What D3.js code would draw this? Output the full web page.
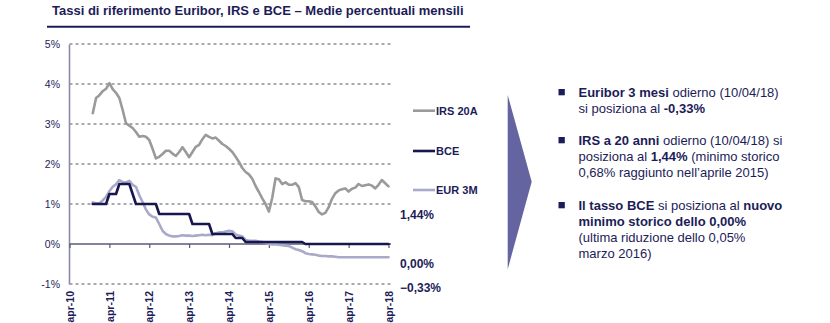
<!DOCTYPE html>
<html><head><meta charset="utf-8">
<script src="https://cdn.jsdelivr.net/npm/d3@7"></script>
<style>
html,body{margin:0;padding:0;background:#fff;}
svg{display:block;font-family:"Liberation Sans",Arial,sans-serif;}
</style></head><body>
<svg id="chart" width="830" height="323"></svg>
<script>
// Monthly averages (%), first value = November 2010, last = April 2018
const startMonth = "2010-11";
const irs20a = [3.27,3.65,3.72,3.82,3.88,4.02,3.87,3.78,3.65,3.35,
  3.02,2.96,2.90,2.80,2.68,2.70,2.68,2.60,2.38,2.14,
  2.18,2.25,2.33,2.33,2.26,2.20,2.30,2.42,2.30,2.17,
  2.30,2.43,2.48,2.62,2.73,2.68,2.64,2.66,2.58,2.50,
  2.45,2.38,2.30,2.18,2.05,1.90,1.80,1.74,1.63,1.45,
  1.30,1.14,1.00,0.81,1.15,1.64,1.62,1.50,1.54,1.48,
  1.48,1.52,1.42,1.10,1.07,1.07,1.05,0.94,0.80,0.74,
  0.78,0.92,1.13,1.27,1.34,1.37,1.39,1.31,1.38,1.41,
  1.50,1.45,1.47,1.49,1.46,1.39,1.48,1.60,1.52,1.44];
const bce = [1.00,1.00,1.00,1.00,1.00,1.25,1.25,1.25,1.50,1.50,
  1.50,1.50,1.25,1.00,1.00,1.00,1.00,1.00,1.00,1.00,
  0.75,0.75,0.75,0.75,0.75,0.75,0.75,0.75,0.75,0.75,
  0.50,0.50,0.50,0.50,0.50,0.50,0.25,0.25,0.25,0.25,
  0.25,0.25,0.25,0.15,0.15,0.15,0.05,0.05,0.05,0.05,
  0.05,0.05,0.05,0.05,0.05,0.05,0.05,0.05,0.05,0.05,
  0.05,0.05,0.05,0.05,0.00,0.00,0.00,0.00,0.00,0.00,
  0.00,0.00,0.00,0.00,0.00,0.00,0.00,0.00,0.00,0.00,
  0.00,0.00,0.00,0.00,0.00,0.00,0.00,0.00,0.00,0.00];
const eur3m = [1.04,1.02,1.02,1.09,1.18,1.32,1.43,1.49,1.60,1.55,
  1.54,1.58,1.48,1.43,1.22,1.05,0.86,0.74,0.68,0.66,
  0.50,0.33,0.25,0.21,0.19,0.19,0.20,0.22,0.21,0.21,
  0.20,0.21,0.22,0.23,0.22,0.23,0.22,0.27,0.29,0.29,
  0.31,0.33,0.32,0.24,0.21,0.19,0.10,0.08,0.08,0.08,
  0.06,0.05,0.03,0.00,-0.01,-0.01,-0.02,-0.03,-0.04,-0.05,
  -0.09,-0.13,-0.15,-0.18,-0.23,-0.25,-0.26,-0.27,-0.29,-0.30,
  -0.30,-0.31,-0.31,-0.32,-0.33,-0.33,-0.33,-0.33,-0.33,-0.33,
  -0.33,-0.33,-0.33,-0.33,-0.33,-0.33,-0.33,-0.33,-0.33,-0.33];
const tickLabels = ["apr-10","apr-11","apr-12","apr-13","apr-14","apr-15","apr-16","apr-17","apr-18"];
const yTicks = [-1,0,1,2,3,4,5];
const seriesNames = ["IRS 20A","BCE","EUR 3M"];

const titleText = "Tassi di riferimento Euribor, IRS e BCE \u2013 Medie percentuali mensili";
const notes = [
  [[["Euribor 3 mesi",1],[" odierno (10/04/18)",0]],
   [["si posiziona al ",0],["-0,33%",1]]],
  [[["IRS a 20 anni",1],[" odierno (10/04/18) si",0]],
   [["posiziona al ",0],["1,44%",1],[" (minimo storico",0]],
   [["0,68% raggiunto nell\u2019aprile 2015)",0]]],
  [[["Il tasso BCE",1],[" si posiziona al ",0],["nuovo",1]],
   [["minimo storico dello 0,00%",1]],
   [["(ultima riduzione dello 0,05%",0]],
   [["marzo 2016)",0]]]
];

const navy = "#1c1c58";
const colors = {"IRS 20A":"#9a9a9a","BCE":"#17174f","EUR 3M":"#a9a9c9"};

const svg = d3.select("#chart");

// month index counted from April 2010
const monthIndex = s => {
  const [y, m] = s.split("-").map(Number);
  return (y - 2010) * 12 + (m - 4);
};
const labelIndex = l => (2000 + +l.slice(4) - 2010) * 12;
const first = monthIndex(startMonth);

const x = d3.scaleLinear().domain([0, 96]).range([69.5, 388.5]);
const y = d3.scaleLinear().domain([-1, 5]).range([284, 44]);
const gridRight = 391;

// title and rule
svg.append("text").attr("x", 52).attr("y", 14.5)
  .attr("font-size", 13).attr("font-weight", "bold").attr("fill", navy)
  .text(titleText);
svg.append("line").attr("x1", 47).attr("x2", 470).attr("y1", 26.7).attr("y2", 26.7)
  .attr("stroke", navy).attr("stroke-width", 2);

// horizontal grid
const g = svg.append("g");
g.selectAll("line.grid").data(yTicks.filter(v => v !== 0)).join("line")
  .attr("class", "grid")
  .attr("x1", x(0)).attr("x2", gridRight)
  .attr("y1", d => y(d)).attr("y2", d => y(d))
  .attr("stroke", "#55556a").attr("stroke-width", 1).attr("stroke-dasharray", "3,3");

// y axis
const yAxis = d3.axisLeft(y).tickValues(yTicks).tickSize(0).tickPadding(9)
  .tickFormat(d => d + "%");
const ya = svg.append("g").attr("transform", `translate(${x(0) - 0.5},0)`).call(yAxis);
ya.select(".domain").attr("stroke", "#8a8aa6").attr("stroke-width", 1.6);
ya.selectAll("text").attr("font-size", 10.5).attr("fill", navy)
  .attr("font-family", "Liberation Sans, Arial, sans-serif");

// zero line with April ticks
svg.append("line").attr("x1", x(0)).attr("x2", gridRight)
  .attr("y1", y(0)).attr("y2", y(0)).attr("stroke", "#5a5a78").attr("stroke-width", 1.4);
const xAxis = d3.axisBottom(x).tickValues(tickLabels.map(labelIndex))
  .tickSize(4).tickFormat(d => tickLabels[d / 12]);
const xa = svg.append("g").attr("transform", `translate(0,${y(0)})`).call(xAxis);
xa.select(".domain").remove();
xa.selectAll(".tick line").attr("stroke", "#5a5a78").attr("stroke-width", 1.2);
xa.selectAll("text")
  .attr("font-size", 10.5).attr("font-weight", "bold").attr("fill", navy)
  .attr("font-family", "Liberation Sans, Arial, sans-serif")
  .attr("text-anchor", "end")
  .attr("transform", `translate(0,${291 - y(0)}) rotate(-90)`)
  .attr("x", 0).attr("y", 0).attr("dy", "0.35em").attr("dx", 0);

// series
const series = {"IRS 20A": irs20a, "BCE": bce, "EUR 3M": eur3m};
const line = d3.line().x((d, i) => x(first + i)).y(d => y(d));
["IRS 20A", "EUR 3M", "BCE"].forEach(name => {
  svg.append("path").datum(series[name])
    .attr("d", line).attr("fill", "none")
    .attr("stroke", colors[name]).attr("stroke-width", 2.6)
    .attr("stroke-linejoin", "round").attr("stroke-linecap", "round");
});

// legend
const legendY = [110.7, 151, 190];
seriesNames.forEach((name, i) => {
  svg.append("line").attr("x1", 413).attr("x2", 435)
    .attr("y1", legendY[i]).attr("y2", legendY[i])
    .attr("stroke", colors[name]).attr("stroke-width", 2.6);
  svg.append("text").attr("x", 436).attr("y", legendY[i] + 4)
    .attr("font-size", 11).attr("font-weight", "bold").attr("fill", navy)
    .text(name);
});

// latest values
const fmt = v => d3.format(".2f")(v).replace(".", ",") + "%";
const lastLabelY = [219, 268, 292];
seriesNames.forEach((name, i) => {
  const vals = series[name];
  svg.append("text").attr("x", 400).attr("y", lastLabelY[i])
    .attr("font-size", 12).attr("font-weight", "bold").attr("fill", navy)
    .text(fmt(vals[vals.length - 1]));
});

// arrow
svg.append("path")
  .attr("d", "M507.7,95 L531.7,181.7 L507.7,269.3 Z")
  .attr("fill", "#6464a0");

// notes
const blockTop = [92, 140, 205];
const lineStep = 16;
notes.forEach((block, bi) => {
  svg.append("rect").attr("x", 558.5).attr("y", blockTop[bi] - 3)
    .attr("width", 6.3).attr("height", 6.3).attr("fill", navy);
  block.forEach((ln, li) => {
    const t = svg.append("text").attr("x", 578.5)
      .attr("y", blockTop[bi] + li * lineStep + 4.5)
      .attr("font-size", 13).attr("fill", navy);
    ln.forEach(([s, b]) => t.append("tspan")
      .attr("font-weight", b ? "bold" : "normal").text(s));
  });
});
</script>
</body></html>
